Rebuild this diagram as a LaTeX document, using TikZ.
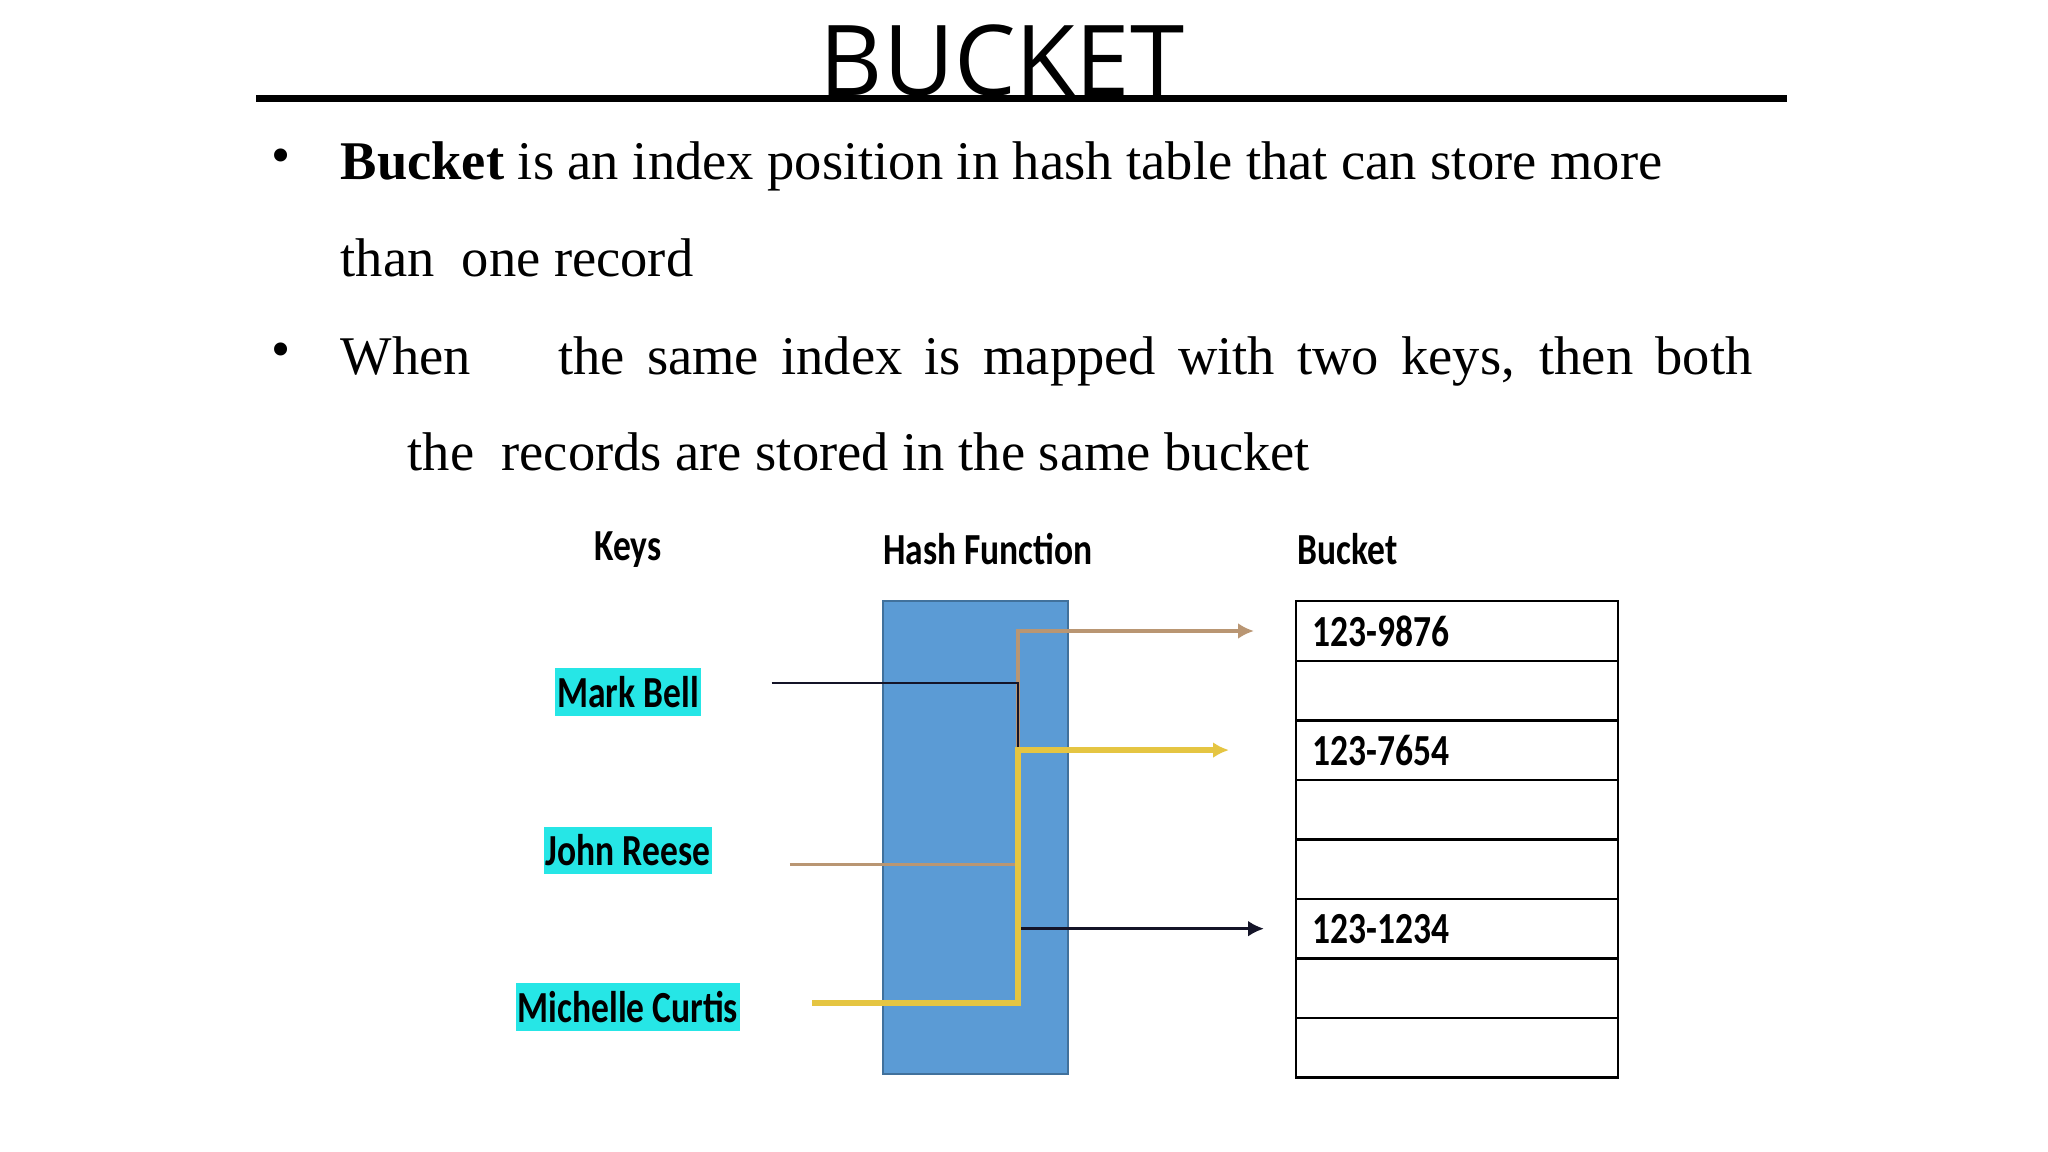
\documentclass[tikz,border=0pt]{standalone}
\usepackage{fontspec}
\usepackage{graphicx}
\setmainfont{Liberation Serif}
\newfontfamily\titlefont{Open Sans}
\newfontfamily\diafont{Carlito}
\usetikzlibrary{arrows.meta,positioning,calc}
\definecolor{hashblue}{RGB}{91,155,213}
\definecolor{hashedge}{RGB}{65,113,156}
\definecolor{keycyan}{RGB}{38,230,230}
\definecolor{tanline}{RGB}{185,150,115}
\definecolor{goldline}{RGB}{229,197,66}
\definecolor{darkline}{RGB}{20,20,40}
\newcommand{\vstretch}[1]{\scalebox{1}[1.25]{#1}}

\begin{document}
\begin{tikzpicture}[x=0.01cm,y=-0.01cm,>=Stealth,
  body/.style={anchor=base west,inner sep=0,font=\fontsize{15.5}{18}\selectfont},
  dia/.style={font=\diafont\bfseries\fontsize{10.1}{12}\selectfont,inner sep=0},
  keybox/.style={dia,fill=keycyan,inner xsep=0.6pt,minimum height=0.47cm},
  slot/.style={dia,draw,line width=0.7pt,minimum height=0.595cm,text width=2.88cm,inner xsep=0.17cm,align=left,outer sep=0},
  link/.style={-{Latex[length=4.5pt,width=4.5pt]}}]
\fill[white] (0,0) rectangle (2048,1152);
% title
\draw[line width=2.2pt] (256,98.5) -- (1787,98.5);
\node[anchor=base,inner sep=0,font=\titlefont\fontsize{27.8}{30}\selectfont] (title) at (1002,96) {BUCKET};
% bullets
\node[inner sep=0,font=\fontsize{15.5}{18}\selectfont] (dot1) at (281,161) {\textbullet};
\node[inner sep=0,font=\fontsize{15.5}{18}\selectfont] (dot2) at (281,355) {\textbullet};
\node[body] (line1) at (340,180) {\textbf{Bucket} is an index position in hash table that can store more};
\node[body] (line2) at (340,277) {than\ \ one record};
\node[body] (line3) at (340,375) {\makebox[14.11cm][s]{When\hspace{0.65cm} the same index is mapped with two keys, then both}};
\node[body] (line4) at (407,471) {the\ \ records are stored in the same bucket};
% headings
\node[dia] (keyshead) at (628,550) {\vstretch{Keys}};
\node[dia] (hashhead) at (988,549) {\vstretch{Hash Function}};
\node[dia,anchor=west] (buckethead) at (1297,549) {\vstretch{Bucket}};
% hash function box
\node[draw=hashedge,fill=hashblue,minimum width=1.85cm,minimum height=4.73cm,inner sep=0,outer sep=0] (hashfn) at (975.5,837.5) {};
% keys
\node[keybox] (mark) at (628,692) {\vstretch{Mark Bell}};
\node[keybox,below=1.1cm of mark] (john) {\vstretch{John Reese}};
\node[keybox,below=1.08cm of john] (michelle) {\vstretch{Michelle Curtis}};
% bucket slots
\node[slot] (r1) at (1457,631) {\vstretch{123-9876}};
\foreach \i/\t [remember=\i as \j (initially 1)] in {2/,3/123-7654,4/,5/,6/123-1234,7/,8/}
  \node[slot,below=0pt of r\j] (r\i) {\vstretch{\t}};
% links
\coordinate (markout) at ($(mark.east)+(70,-9)$);
\coordinate (johnout) at ($(john.east)+(77,14)$);
\coordinate (michout) at ($(michelle.east)+(71,-4)$);
\coordinate (bus) at (1018,0);
\coordinate (tip1) at ($(r1.west)+(-42,0)$);
\coordinate (tip3) at ($(r3.west)+(-67,0)$);
\coordinate (tip6) at ($(r6.west)+(-32,0)$);
\draw[link,tanline,line width=1pt] (johnout) -- (bus |- johnout) -- (bus |- tip1) -- (tip1);
\draw[link,darkline,line width=0.8pt] (markout) -- (bus |- markout) -- (bus |- tip6) -- (tip6);
\draw[link,goldline,line width=1.6pt] (michout) -- (bus |- michout) -- (bus |- tip3) -- (tip3);
\end{tikzpicture}
\end{document}
